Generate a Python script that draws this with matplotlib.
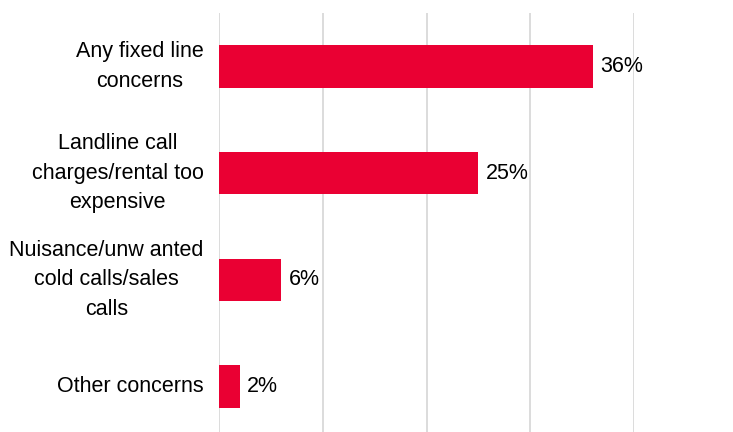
import matplotlib
matplotlib.use("Agg")
import matplotlib.pyplot as plt

categories = [
    "Any fixed line\nconcerns",
    "Landline call\ncharges/rental too\nexpensive",
    "Nuisance/unw anted\ncold calls/sales\ncalls",
    "Other concerns",
]
values = [36, 25, 6, 2]
grid_ticks = [0, 10, 20, 30, 40]

plt.rcParams["font.family"] = ["Liberation Sans", "DejaVu Sans"]

fig = plt.figure(figsize=(7.33, 4.32), dpi=100)
ax = fig.add_axes([219 / 733, -8 / 432, (634 - 219) / 733, 427 / 432])

y = range(len(categories))
ax.barh(y, values, height=0.4, color="#EA0033", zorder=3)

ax.set_xlim(0, 40)
ax.set_ylim(len(categories) - 0.5, -0.5)
ax.set_xticks(grid_ticks)
ax.set_xticklabels([])
ax.tick_params(axis="x", length=0)
ax.grid(axis="x", color="#D9D9D9", linewidth=1.3, zorder=0)
for s in ax.spines.values():
    s.set_visible(False)

ax.set_yticks(list(y))
ax.set_yticklabels(categories, fontsize=15.5, color="#000000",
                   multialignment="center", linespacing=1.55, va="center")
ax.tick_params(axis="y", length=0, pad=11)

for yi, v in zip(y, values):
    ax.text(v + 0.7, yi, f"{v}%", va="center", ha="left",
            fontsize=15.5, color="#000000", zorder=4, clip_on=False)

fig.savefig("out.png", dpi=100)
